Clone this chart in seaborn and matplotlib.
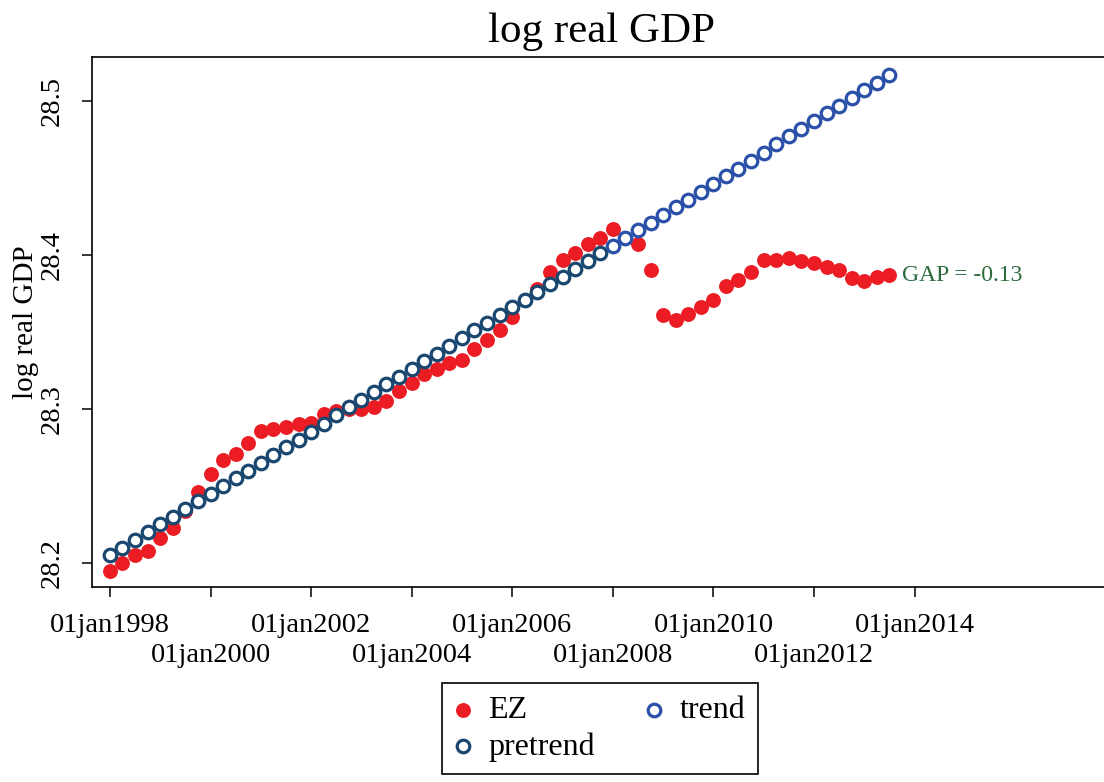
import pandas as pd
import matplotlib
matplotlib.use("Agg")
import matplotlib.pyplot as plt
import seaborn as sns

# quarterly observations, 1998Q1 - 2013Q3
quarters = pd.period_range("1998Q1", "2013Q3", freq="Q")

# log real GDP of the euro zone
ez = [28.195, 28.200, 28.205, 28.208, 28.216, 28.223, 28.234, 28.246,
      28.258, 28.267, 28.271, 28.278, 28.286, 28.287, 28.288, 28.290,
      28.291, 28.297, 28.299, 28.300, 28.300, 28.301, 28.305, 28.312,
      28.317, 28.323, 28.326, 28.330, 28.332, 28.339, 28.345, 28.351,
      28.360, 28.371, 28.378, 28.389, 28.397, 28.401, 28.407, 28.411,
      28.417, 28.411, 28.407, 28.390, 28.361, 28.358, 28.362, 28.366,
      28.371, 28.380, 28.384, 28.389, 28.397, 28.397, 28.398, 28.396,
      28.395, 28.392, 28.390, 28.385, 28.383, 28.386, 28.387]

# fitted trend up to 2007Q4
pretrend = [28.205, 28.210, 28.215, 28.220, 28.225, 28.230, 28.235, 28.240,
            28.245, 28.250, 28.255, 28.260, 28.265, 28.270, 28.275, 28.280,
            28.285, 28.290, 28.296, 28.301, 28.306, 28.311, 28.316, 28.321,
            28.326, 28.331, 28.336, 28.341, 28.346, 28.351, 28.356, 28.361,
            28.366, 28.371, 28.376, 28.381, 28.386, 28.391, 28.396, 28.401]

# extrapolated trend from 2008Q1
trend = [28.406, 28.411, 28.416, 28.421, 28.426, 28.431, 28.436, 28.441,
         28.446, 28.451, 28.456, 28.461, 28.466, 28.472, 28.477, 28.482,
         28.487, 28.492, 28.497, 28.502, 28.507, 28.512, 28.517]

# tick years: upper row and (staggered) lower row of labels
upper_years = [1998, 2002, 2006, 2010, 2014]
lower_years = [2000, 2004, 2008, 2012]
y_ticks = [28.2, 28.3, 28.4, 28.5]
gap_label = "GAP = -0.13"

dates = quarters.to_timestamp()
df_ez = pd.DataFrame({"date": dates, "value": ez})
df_pre = pd.DataFrame({"date": dates[:len(pretrend)], "value": pretrend})
df_tr = pd.DataFrame({"date": dates[len(pretrend):], "value": trend})

sns.set_style("white")
plt.rcParams["font.family"] = ["Liberation Serif", "DejaVu Serif"]
plt.rcParams["text.color"] = "black"
plt.rcParams["axes.labelcolor"] = "black"
plt.rcParams["xtick.color"] = "black"
plt.rcParams["ytick.color"] = "black"

fig = plt.figure(figsize=(11.04, 7.82), dpi=100)
ax = fig.add_axes([92 / 1104, 1 - 587 / 782, (1110 - 92) / 1104, (587 - 57) / 782])

red = "#EC1C24"
navy = "#1A476F"
blue = "#2A50A8"

sns.scatterplot(data=df_ez, x="date", y="value", color=red, s=115,
                linewidth=0, label="EZ", ax=ax, zorder=2)
sns.scatterplot(data=df_pre, x="date", y="value", facecolor="white",
                edgecolor=navy, s=82, linewidth=2.3, label="pretrend",
                ax=ax, zorder=3)
sns.scatterplot(data=df_tr, x="date", y="value", facecolor="white",
                edgecolor=blue, s=82, linewidth=2.3, label="trend",
                ax=ax, zorder=3)

ax.annotate(gap_label, xy=(df_ez["date"].iloc[-1], ez[-1]), xytext=(9, 0),
            textcoords="offset points", va="center", ha="left",
            fontsize=17, color="#2C6B3C")

ax.set_xlim(pd.Timestamp("1997-08-23"), pd.Timestamp("2017-11-20"))
ax.set_ylim(28.1844, 28.5286)

# Stata-style staggered date labels: major ticks upper row, minor lower row
ax.set_xticks([pd.Timestamp(f"{y}-01-01") for y in upper_years])
ax.set_xticklabels([f"01jan{y}" for y in upper_years], fontsize=20.5)
ax.set_xticks([pd.Timestamp(f"{y}-01-01") for y in lower_years], minor=True)
ax.set_xticklabels([f"01jan{y}" for y in lower_years], minor=True,
                   fontsize=20.5)

ax.set_yticks(y_ticks)
ax.set_yticklabels([f"{v:.1f}" for v in y_ticks], fontsize=20.5,
                   rotation=90, va="center")
ax.tick_params(axis="both", which="both", direction="out", length=7.5,
               width=1.1, color="black", bottom=True, left=True)
ax.tick_params(axis="x", which="major", pad=11)
ax.tick_params(axis="x", which="minor", pad=32.5)
ax.tick_params(axis="y", pad=12)

ax.set_xlabel("")
ax.set_ylabel("log real GDP", fontsize=21)
ax.yaxis.set_label_coords(-0.052, 0.5)
ax.set_title("log real GDP", fontsize=31, pad=11)

for sp in ax.spines.values():
    sp.set_visible(True)
    sp.set_color("black")
    sp.set_linewidth(1.2)

if ax.get_legend() is not None:
    ax.get_legend().remove()
handles, labels = ax.get_legend_handles_labels()
leg = fig.legend(handles, labels, ncol=2, loc="upper center",
                 bbox_to_anchor=(600 / 1104, 1 - 683 / 782),
                 fontsize=23, frameon=True, fancybox=False, framealpha=1,
                 edgecolor="black", borderpad=0.4, labelspacing=0.22,
                 handlelength=0.5, handletextpad=0.55, columnspacing=1.6,
                 borderaxespad=0)
leg.get_frame().set_linewidth(1.2)

fig.savefig("out.png", dpi=100)
